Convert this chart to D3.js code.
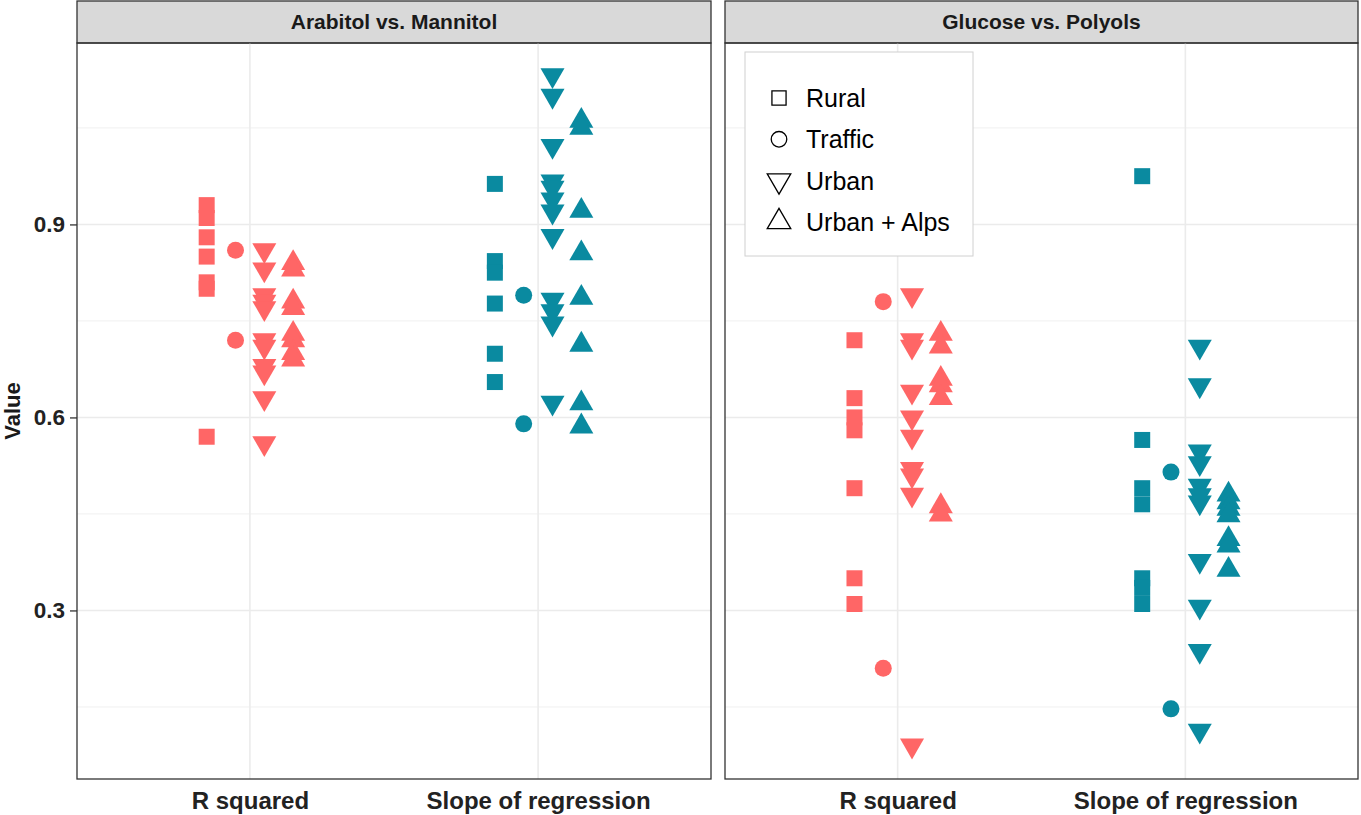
<!DOCTYPE html>
<html>
<head>
<meta charset="utf-8">
<script src="https://cdn.jsdelivr.net/npm/d3@7"></script>
<style>
  body { margin: 0; background: #fff; }
  svg { display: block; font-family: "Liberation Sans", Arial, sans-serif; }
</style>
</head>
<body>
<script>
const panels = ["Arabitol vs. Mannitol", "Glucose vs. Polyols"];
const metrics = ["R squared", "Slope of regression"];
const siteTypes = ["Rural", "Traffic", "Urban", "Urban + Alps"];
const yTicks = [0.3, 0.6, 0.9];
const yMinorTicks = [0.15, 0.45, 0.75, 1.05];

// Arabitol vs. Mannitol
const araRsqRural = [0.93, 0.91, 0.88, 0.85, 0.81, 0.80, 0.57];
const araRsqTraffic = [0.86, 0.72];
const araRsqUrban = [0.86, 0.83, 0.79, 0.78, 0.77, 0.72, 0.71, 0.68, 0.67, 0.63, 0.56];
const araRsqAlps = [0.84, 0.83, 0.78, 0.77, 0.73, 0.72, 0.70, 0.69];
const araSlopeRural = [0.963, 0.843, 0.825, 0.777, 0.699, 0.655];
const araSlopeTraffic = [0.79, 0.59];
const araSlopeUrban = [1.132, 1.10, 1.022, 0.967, 0.957, 0.939, 0.92, 0.882, 0.783, 0.765, 0.746, 0.623];
const araSlopeAlps = [1.061, 1.05, 0.921, 0.855, 0.786, 0.713, 0.622, 0.586];

// Glucose vs. Polyols
const gluRsqRural = [0.72, 0.63, 0.60, 0.58, 0.49, 0.35, 0.31];
const gluRsqTraffic = [0.78, 0.21];
const gluRsqUrban = [0.79, 0.72, 0.71, 0.64, 0.60, 0.57, 0.52, 0.51, 0.48, 0.09];
const gluRsqAlps = [0.73, 0.71, 0.66, 0.65, 0.63, 0.462, 0.449];
const gluSlopeRural = [0.975, 0.565, 0.49, 0.465, 0.35, 0.335, 0.31];
const gluSlopeTraffic = [0.515, 0.147];
const gluSlopeUrban = [0.71, 0.65, 0.547, 0.529, 0.494, 0.479, 0.468, 0.377, 0.306, 0.237, 0.113];
const gluSlopeAlps = [0.48, 0.468, 0.458, 0.448, 0.411, 0.401, 0.363];

const metricColors = ["#FF6666", "#0A8AA0"];

// flatten into rows the scales can use
const series = [
  [panels[0], metrics[0], [araRsqRural, araRsqTraffic, araRsqUrban, araRsqAlps]],
  [panels[0], metrics[1], [araSlopeRural, araSlopeTraffic, araSlopeUrban, araSlopeAlps]],
  [panels[1], metrics[0], [gluRsqRural, gluRsqTraffic, gluRsqUrban, gluRsqAlps]],
  [panels[1], metrics[1], [gluSlopeRural, gluSlopeTraffic, gluSlopeUrban, gluSlopeAlps]]
];
const rows = [];
series.forEach(([panel, metric, groups]) => {
  groups.forEach((vals, i) => {
    vals.forEach(v => rows.push({ panel, metric, site: siteTypes[i], value: v }));
  });
});

const width = 1361, height = 815;
const panelTop = 43, panelBottom = 779, stripTop = 1;
const panelX = { [panels[0]]: [77, 711], [panels[1]]: [725, 1358] };

const svg = d3.select("body").append("svg")
  .attr("width", width)
  .attr("height", height);

const y = d3.scaleLinear()
  .domain([0.038, 1.182])
  .range([panelBottom, panelTop]);

const symbolFor = {
  "Rural": { type: d3.symbolSquare, size: 256, rot: 0 },
  "Traffic": { type: d3.symbolCircle, size: 227, rot: 0 },
  "Urban": { type: d3.symbolTriangle, size: 250, rot: 180 },
  "Urban + Alps": { type: d3.symbolTriangle, size: 250, rot: 0 }
};

panels.forEach((panel, pi) => {
  const [x0, x1] = panelX[panel];
  const w = x1 - x0;

  const x = d3.scalePoint()
    .domain(metrics)
    .range([0, w])
    .padding(0.6);
  const dodge = d3.scalePoint()
    .domain(siteTypes)
    .range([-0.15 * x.step(), 0.15 * x.step()]);

  const g = svg.append("g")
    .attr("transform", "translate(" + x0 + ",0)");

  // strip
  g.append("rect")
    .attr("x", 0).attr("y", stripTop)
    .attr("width", w).attr("height", panelTop - stripTop)
    .attr("fill", "#D9D9D9")
    .attr("stroke", "#333").attr("stroke-width", 1.3);
  g.append("text")
    .attr("x", w / 2).attr("y", (stripTop + panelTop) / 2 + 7)
    .attr("text-anchor", "middle")
    .attr("font-size", 21).attr("font-weight", "bold")
    .attr("fill", "#1a1a1a")
    .text(panel);

  // grid
  g.selectAll(".minor").data(yMinorTicks).enter().append("line")
    .attr("x1", 0).attr("x2", w)
    .attr("y1", d => y(d)).attr("y2", d => y(d))
    .attr("stroke", "#F0F0F0").attr("stroke-width", 1);
  g.selectAll(".major").data(yTicks).enter().append("line")
    .attr("x1", 0).attr("x2", w)
    .attr("y1", d => y(d)).attr("y2", d => y(d))
    .attr("stroke", "#EBEBEB").attr("stroke-width", 1.6);
  g.selectAll(".vgrid").data(metrics).enter().append("line")
    .attr("x1", d => x(d)).attr("x2", d => x(d))
    .attr("y1", panelTop).attr("y2", panelBottom)
    .attr("stroke", "#EBEBEB").attr("stroke-width", 1.6);

  // points
  g.append("g").selectAll("path")
    .data(rows.filter(r => r.panel === panel))
    .enter().append("path")
    .attr("d", d => d3.symbol().type(symbolFor[d.site].type).size(symbolFor[d.site].size)())
    .attr("transform", d => "translate(" + (x(d.metric) + dodge(d.site)) + "," + y(d.value) + ") rotate(" + symbolFor[d.site].rot + ")")
    .attr("fill", d => metricColors[metrics.indexOf(d.metric)]);

  // panel border
  g.append("rect")
    .attr("x", 0).attr("y", panelTop)
    .attr("width", w).attr("height", panelBottom - panelTop)
    .attr("fill", "none")
    .attr("stroke", "#333").attr("stroke-width", 1.3);

  // x axis labels
  const xAxis = d3.axisBottom(x).tickSize(0).tickPadding(13);
  const xa = g.append("g")
    .attr("transform", "translate(0," + panelBottom + ")")
    .call(xAxis);
  xa.select(".domain").remove();
  xa.selectAll("text")
    .attr("font-size", 24).attr("font-weight", "bold")
    .attr("font-family", "Liberation Sans, Arial, sans-serif")
    .attr("fill", "#222");

  if (pi === 0) {
    const yAxis = d3.axisLeft(y).tickValues(yTicks).tickSize(7).tickPadding(5)
      .tickFormat(d3.format(".1f"));
    const ya = g.append("g").call(yAxis);
    ya.select(".domain").remove();
    ya.selectAll("line").attr("stroke", "#333").attr("stroke-width", 1.3);
    ya.selectAll("text")
      .attr("font-size", 22.5).attr("font-weight", "bold")
      .attr("font-family", "Liberation Sans, Arial, sans-serif")
      .attr("fill", "#222");
  }
});

// y title
svg.append("text")
  .attr("transform", "translate(20," + ((panelTop + panelBottom) / 2) + ") rotate(-90)")
  .attr("text-anchor", "middle")
  .attr("font-size", 22).attr("font-weight", "bold")
  .attr("fill", "#1a1a1a")
  .text("Value");

// legend
const legend = svg.append("g").attr("transform", "translate(745,52)");
legend.append("rect")
  .attr("width", 228).attr("height", 204)
  .attr("fill", "#fff")
  .attr("stroke", "#D0D0D0").attr("stroke-width", 1);

const legendSymbol = {
  "Rural": { type: d3.symbolSquare, size: 200 },
  "Traffic": { type: d3.symbolCircle, size: 190 },
  "Urban": { type: d3.symbolTriangle, size: 240 },
  "Urban + Alps": { type: d3.symbolTriangle, size: 240 }
};
const item = legend.selectAll(".item").data(siteTypes).enter().append("g")
  .attr("transform", (d, i) => "translate(0," + (46 + i * 41.3) + ")");
item.append("path")
  .attr("d", d => d3.symbol().type(legendSymbol[d].type).size(legendSymbol[d].size)())
  .attr("transform", d => "translate(34,0) rotate(" + (d === "Urban" ? 180 : 0) + ")")
  .attr("fill", "none").attr("stroke", "#000").attr("stroke-width", 1.3);
item.append("text")
  .attr("x", 61).attr("y", 9)
  .attr("font-size", 25)
  .attr("fill", "#000")
  .text(d => d);
</script>
</body>
</html>
